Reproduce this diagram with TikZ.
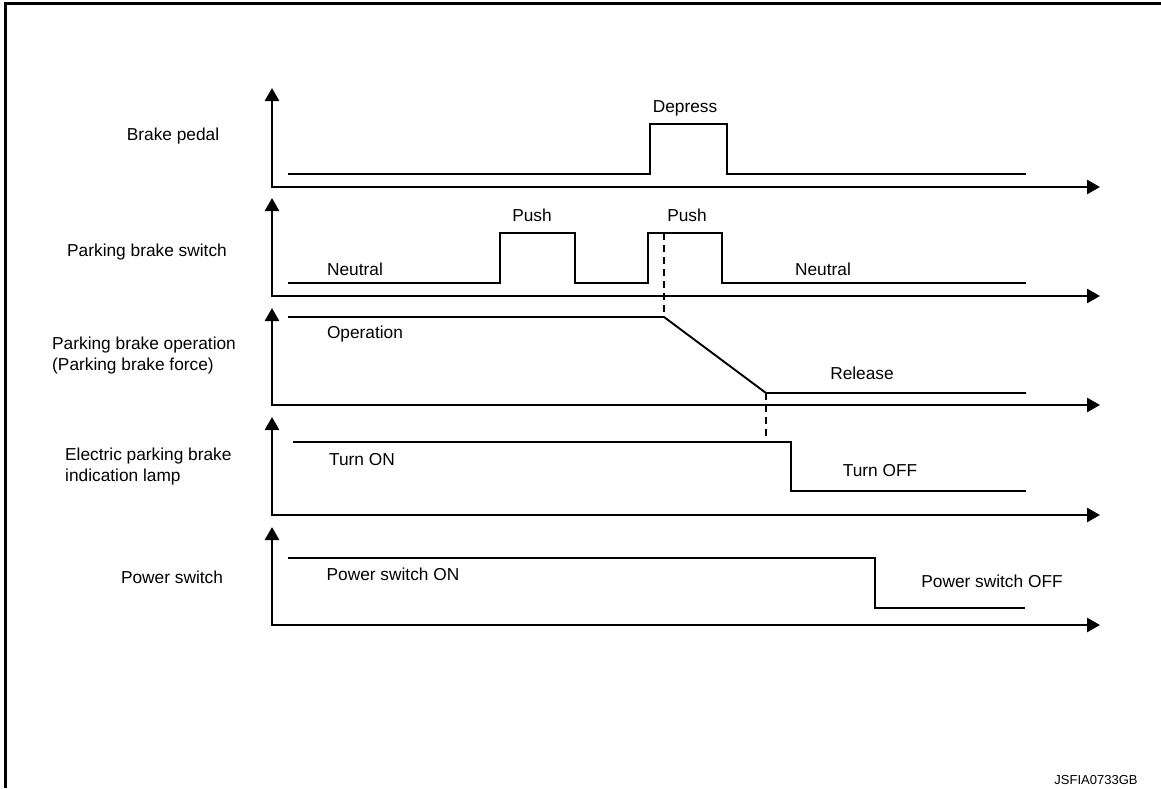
\documentclass[tikz,border=0pt]{standalone}
\usepackage{fontspec}
\setmainfont{Liberation Sans}
\usetikzlibrary{arrows.meta}

\begin{document}
\begin{tikzpicture}[x=1pt,y=-1pt,
    axisline/.style={line width=2.6pt,{Triangle[width=14pt,length=13pt]}-{Triangle[width=14pt,length=13pt]}},
    sigline/.style={line width=1.9pt},
    dashline/.style={line width=1.2pt,dash pattern=on 7pt off 5pt},
    lbl/.style={inner sep=0pt,anchor=base,font=\fontsize{17.3}{21}\selectfont},
    rowlbl/.style={lbl,align=left}]
    \useasboundingbox (0,0) rectangle (1161,788);
    % frame
    \draw[line width=3pt] (5.5,788) -- (5.5,3.5) -- (1161,3.5);
    % axes
    \foreach \yt/\yb in {88/187,198/296,308/405,417/515,527/625}
      \draw[axisline] (272,\yt) -- (272,\yb) -- (1100,\yb);
    % row labels
    \node[rowlbl] (pedal) at (173,140) {Brake pedal};
    \node[rowlbl] (switch) at (147,256) {Parking brake switch};
    \node[rowlbl,anchor=west] (force) at (52,356) {Parking brake operation\\(Parking brake force)};
    \node[rowlbl,anchor=west] (lamp) at (65,467) {Electric parking brake\\indication lamp};
    \node[rowlbl] (power) at (172,583) {Power switch};
    % brake pedal
    \draw[sigline] (288,174) -- (650,174) -- (650,124) -- (727,124) -- (727,174) -- (1026,174);
    \node[lbl] (depress) at (685,112) {Depress};
    % parking brake switch
    \draw[sigline] (288,283) -- (500,283) -- (500,233) -- (575,233) -- (575,283)
      -- (648,283) -- (648,233) -- (722,233) -- (722,283) -- (1026,283);
    \node[lbl] (push1) at (532,221) {Push};
    \node[lbl] (push2) at (687,221) {Push};
    \node[lbl] (neutral1) at (355,275) {Neutral};
    \node[lbl] (neutral2) at (823,275) {Neutral};
    % parking brake operation
    \coordinate (relstart) at (664,317);
    \coordinate (relend) at (766,393);
    \draw[sigline] (288,317) -- (relstart) -- (relend) -- (1026,393);
    \node[lbl] (oper) at (365,338) {Operation};
    \node[lbl] (release) at (862,379) {Release};
    % indication lamp
    \coordinate (lampoff) at (766,442);
    \draw[sigline] (293,442) -- (791,442) -- (791,491) -- (1026,491);
    \node[lbl] (turnon) at (362,465) {Turn ON};
    \node[lbl] (turnoff) at (880,476) {Turn OFF};
    % power switch
    \draw[sigline] (288,558) -- (875,558) -- (875,608) -- (1025,608);
    \node[lbl] (pwon) at (393,580) {Power switch ON};
    \node[lbl] (pwoff) at (992,587) {Power switch OFF};
    % timing links
    \coordinate (pushtop) at (664,233);
    \draw[dashline] (pushtop) -- (relstart);
    \draw[dashline] (relend) -- (lampoff);
    % code
    \node[lbl,font=\fontsize{13}{15}\selectfont] (code) at (1096,784) {JSFIA0733GB};
\end{tikzpicture}
\end{document}
